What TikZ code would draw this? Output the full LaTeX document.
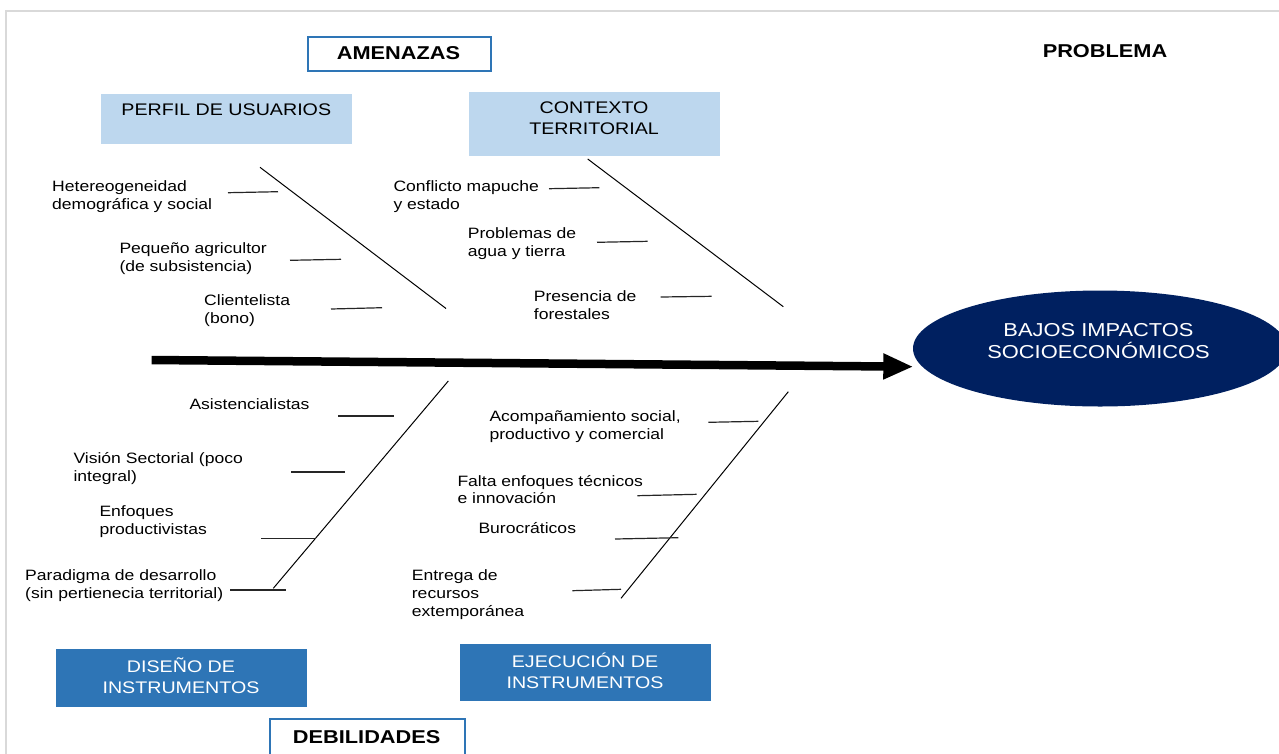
\documentclass[tikz,border=0pt]{standalone}
\usepackage{fontspec}
\setmainfont{Liberation Sans}[FakeStretch=1.17]
\usetikzlibrary{arrows.meta,shapes.geometric}
\definecolor{lblue}{RGB}{189,215,238}
\definecolor{mblue}{RGB}{46,117,182}
\definecolor{navy}{RGB}{0,32,96}
\definecolor{framegray}{RGB}{217,217,217}
\begin{document}
\begin{tikzpicture}[x=1pt,y=-1pt,
  lab/.style={anchor=west, inner sep=0pt, align=left, font=\fontsize{15}{17.8}\selectfont},
  hdr/.style={inner sep=0pt, align=center, font=\fontsize{16.8}{21}\selectfont},
  ttl/.style={inner sep=0pt, font=\fontsize{18.6}{22}\selectfont\bfseries},
  bone/.style={line width=1pt, black},
  twig/.style={line width=1.2pt, black!85},
  fillbox/.style={draw=none, inner sep=0pt, anchor=north west},
  titlebox/.style={draw=mblue, line width=1.5pt, fill=white, inner sep=0pt, anchor=north west}
]
\useasboundingbox (0,0) rectangle (1279,753);
% frame
\draw[framegray, line width=2pt] (6,760) -- (6,11) -- (1285,11);

% title boxes
\node[titlebox, minimum width=183pt, minimum height=34.3pt] (amebox) at (307,36) {};
\node[ttl] (ametxt) at (398.5,53.3) {AMENAZAS};
\node[ttl] (problema) at (1105,50.8) {PROBLEMA};
\node[titlebox, minimum width=195.4pt, minimum height=50pt] (debbox) at (269,718.3) {};
\node[ttl] (debtxt) at (366.7,736.7) {DEBILIDADES};

% category boxes
\node[fillbox, fill=lblue, minimum width=251pt, minimum height=50pt] (perfilbox) at (100.8,93.3) {};
\node[hdr] (perfiltxt) at (226.3,109.7) {PERFIL DE USUARIOS};
\node[fillbox, fill=lblue, minimum width=251pt, minimum height=64pt] (ctxbox) at (468.6,91.7) {};
\node[hdr] (ctxtxt) at (594.1,118) {CONTEXTO\\TERRITORIAL};
\node[fillbox, fill=mblue, minimum width=250.7pt, minimum height=58.4pt] (disbox) at (55.7,648.3) {};
\node[hdr, text=white] (distxt) at (181,676) {DISEÑO DE\\INSTRUMENTOS};
\node[fillbox, fill=mblue, minimum width=251.1pt, minimum height=57.7pt] (ejebox) at (459.5,643.3) {};
\node[hdr, text=white] (ejetxt) at (585,670.7) {EJECUCIÓN DE\\INSTRUMENTOS};

% problem ellipse
\node[ellipse, fill=navy, draw=none, inner sep=0pt, minimum width=374pt, minimum height=116pt] (ell) at (1100,348.5) {};
\node[hdr, text=white, font=\fontsize{18.7}{22.3}\selectfont] (elltxt) at (1098.5,340.8) {BAJOS IMPACTOS\\SOCIOECONÓMICOS};

% spine
\coordinate (spS) at (151.7,360);
\coordinate (spE) at (913.3,366.7);
\draw[line width=8.5pt, -{Triangle[length=30pt,width=24pt]}] (spS) -- (spE);

% bones
\draw[bone] (260,167.3) -- (446,308.5);
\draw[bone] (587.7,159) -- (783.3,306.7);
\draw[bone] (448.3,381) -- (273.3,588.3);
\draw[bone] (788.3,391.7) -- (621,598.3);

% twigs
\draw[twig] (228,192.7) -- (278,191.7);
\draw[twig] (290,260.3) -- (341,259.3);
\draw[twig] (331,309) -- (382,307.7);
\draw[twig] (549,188.7) -- (599.3,187.7);
\draw[twig] (597,242.3) -- (647.7,241.3);
\draw[twig] (660.7,297) -- (711.7,296.3);
\draw[twig] (338.3,416) -- (393.7,416);
\draw[twig] (291.3,472) -- (345.3,472);
\draw[twig] (261,538.3) -- (316,538.3);
\draw[twig] (230,590) -- (286,590);
\draw[twig] (708.3,422.3) -- (758.3,421.3);
\draw[twig] (637.3,495.7) -- (696.7,494.3);
\draw[twig] (615,539) -- (678.3,537.7);
\draw[twig] (572.3,590.7) -- (621,589.3);

% labels
\node[lab] (l1) at (52,196.3) {Hetereogeneidad\\demográfica y social};
\node[lab] (l2) at (119.3,258.9) {Pequeño agricultor\\(de subsistencia)};
\node[lab] (l3) at (204,310.5) {Clientelista\\(bono)};
\node[lab] (l4) at (393.3,196.3) {Conflicto mapuche\\y estado};
\node[lab] (l5) at (467.7,243.9) {Problemas de\\agua y tierra};
\node[lab] (l6) at (533.7,304.9) {Presencia de\\forestales};
\node[lab] (l7) at (189.3,404.5) {Asistencialistas};
\node[lab] (l8) at (73.3,468.3) {Visión Sectorial (poco\\integral)};
\node[lab] (l9) at (99.3,521.5) {Enfoques\\productivistas};
\node[lab] (l10) at (25,585.5) {Paradigma de desarrollo\\(sin pertienecia territorial)};
\node[lab] (l11) at (489.3,426.3) {Acompañamiento social,\\productivo y comercial};
\node[lab] (l12) at (457.3,489.5) {Falta enfoques técnicos\\e innovación};
\node[lab] (l13) at (478.3,527.8) {Burocráticos};
\node[lab] (l14) at (411.7,594.5) {Entrega de\\recursos\\extemporánea};
\end{tikzpicture}
\end{document}
